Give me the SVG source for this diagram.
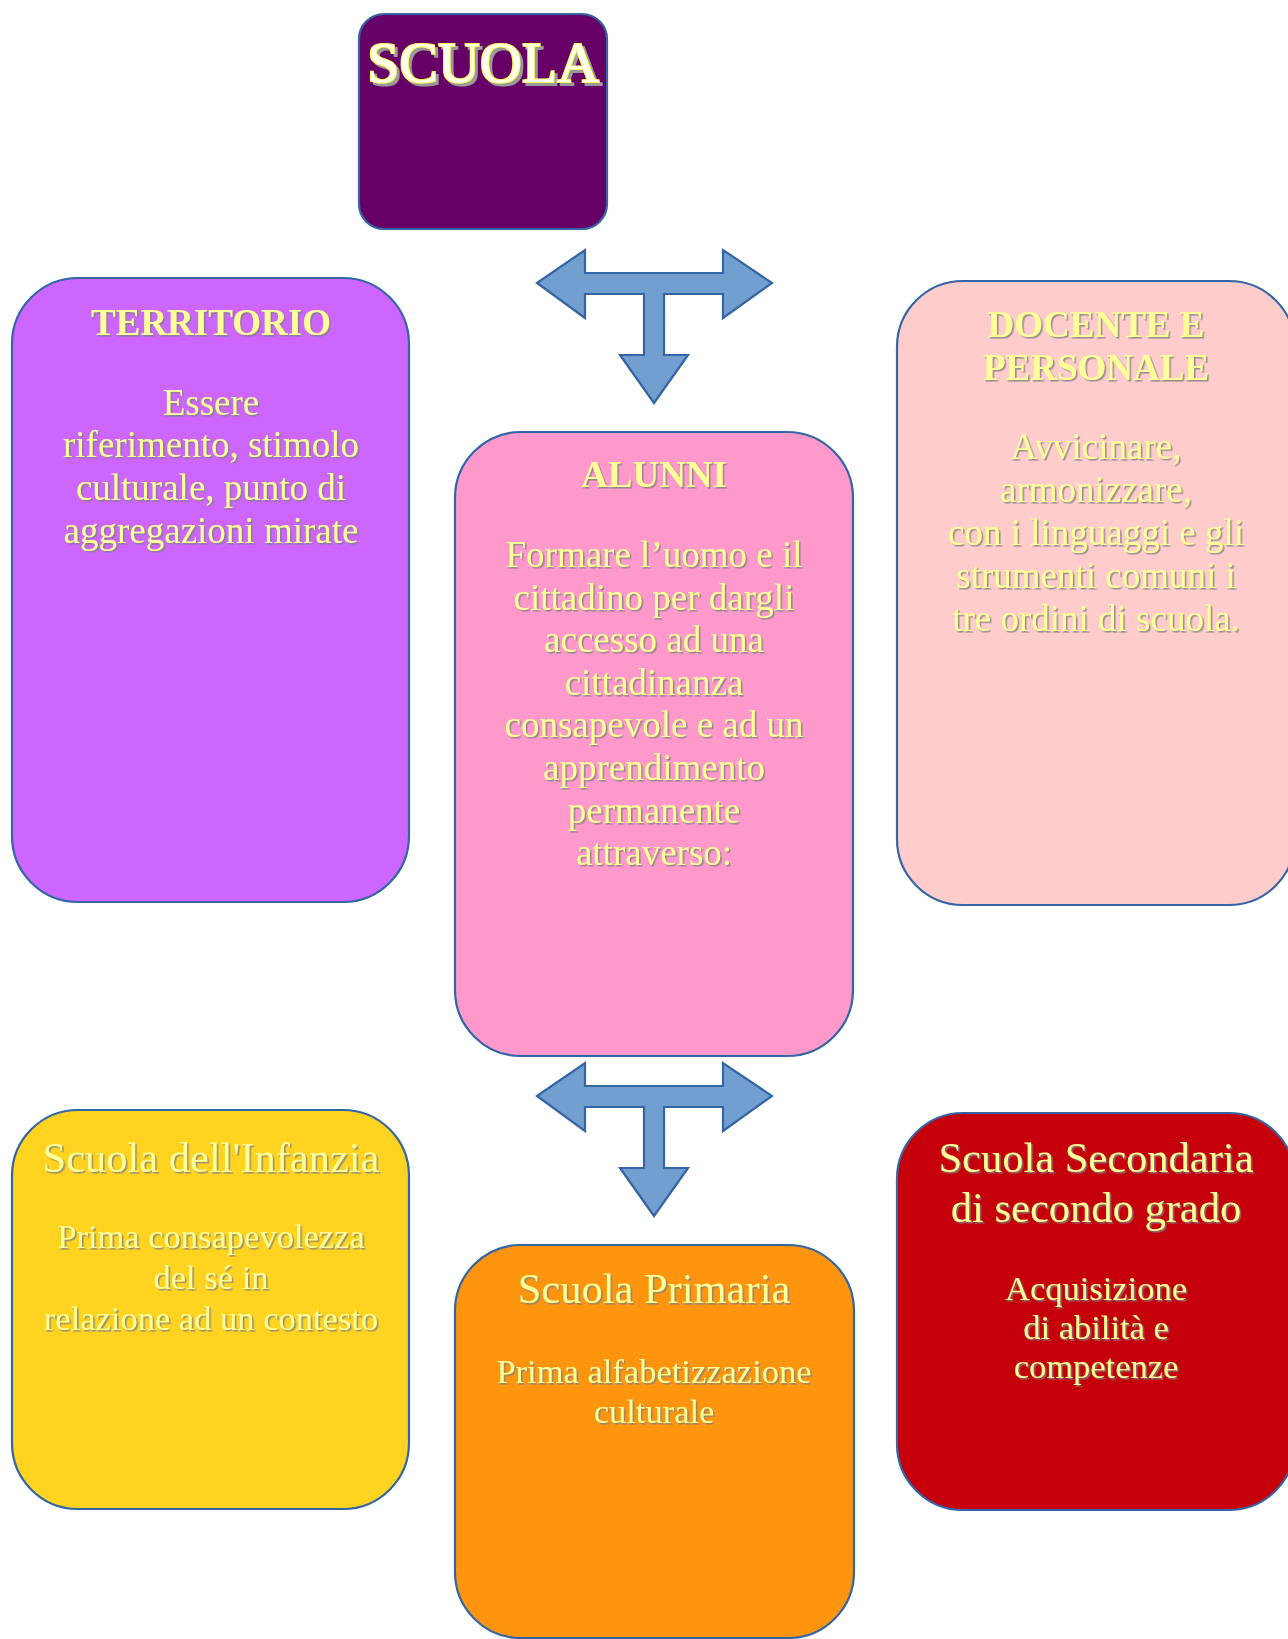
<svg xmlns="http://www.w3.org/2000/svg" width="1288" height="1639" viewBox="0 0 1288 1639">
<defs>
<filter id="sh" x="-10%" y="-10%" width="120%" height="130%">
<feDropShadow dx="1.6" dy="1.6" stdDeviation="0.4" flood-color="#808080" flood-opacity="0.8"/>
</filter>
<filter id="sh2" x="-10%" y="-20%" width="120%" height="140%">
<feMorphology in="SourceAlpha" operator="dilate" radius="0.5" result="d"/>
<feFlood flood-color="#ffff55" result="y"/>
<feComposite in="y" in2="d" operator="in" result="outline"/>
<feOffset in="d" dx="1.6" dy="1.6" result="o"/>
<feFlood flood-color="#9a9a9a" result="g"/>
<feComposite in="g" in2="o" operator="in" result="shadow"/>
<feMerge><feMergeNode in="shadow"/><feMergeNode in="outline"/><feMergeNode in="SourceGraphic"/></feMerge>
</filter>
<style>
.box{stroke:#3465a4;stroke-width:2.2}
.arrow{fill:#729fcf;stroke:#3465a4;stroke-width:2.2;stroke-linejoin:miter}
.tx{font-family:"Liberation Serif","Times New Roman",serif;fill:#ffff99;text-anchor:middle;filter:url(#sh)}
.h{font-weight:bold;font-size:37px}
.b{font-size:37px}
.t{font-size:42.5px}
.s{font-size:34.5px}
.m{font-size:37px;fill:#fffff0;filter:url(#sh2)}
</style>
</defs>
<g id="connectors">
<polygon class="arrow" points="537,283 585,250 585,273 723,273 723,250 772,283 723,318 723,294 664,294 664,355 688,355 654,403 620,355 644,355 644,294 585,294 585,318"/>
<polygon class="arrow" transform="translate(0,813)" points="537,283 585,250 585,273 723,273 723,250 772,283 723,318 723,294 664,294 664,355 688,355 654,403 620,355 644,355 644,294 585,294 585,318"/>
</g>
<g id="scuola">
<rect class="box" x="359" y="14" width="248" height="215" rx="25" fill="#660066"/>
<text class="tx m" transform="translate(483,82) scale(1.5676)" x="0" y="0">SCUOLA</text>
</g>
<g id="territorio">
<rect class="box" x="12" y="278" width="397" height="624" rx="66" fill="#cc66ff"/>
<text class="tx h" x="211" y="335">TERRITORIO</text>
<text class="tx b" x="211" y="415">Essere</text>
<text class="tx b" x="211" y="457">riferimento, stimolo</text>
<text class="tx b" x="211" y="500">culturale, punto di</text>
<text class="tx b" x="211" y="543">aggregazioni mirate</text>
</g>
<g id="alunni">
<rect class="box" x="455" y="432" width="398" height="624" rx="66" fill="#ff99cc"/>
<text class="tx h" x="654" y="487">ALUNNI</text>
<text class="tx b" x="654" y="567">Formare l’uomo e il</text>
<text class="tx b" x="654" y="610">cittadino per dargli</text>
<text class="tx b" x="654" y="652">accesso ad una</text>
<text class="tx b" x="654" y="695">cittadinanza</text>
<text class="tx b" x="654" y="737">consapevole e ad un</text>
<text class="tx b" x="654" y="780">apprendimento</text>
<text class="tx b" x="654" y="823">permanente</text>
<text class="tx b" x="654" y="865">attraverso:</text>
</g>
<g id="docente">
<rect class="box" x="897" y="281" width="398" height="624" rx="66" fill="#ffcccc"/>
<text class="tx h" x="1096" y="337">DOCENTE E</text>
<text class="tx h" x="1096" y="380">PERSONALE</text>
<text class="tx b" x="1096" y="459">Avvicinare,</text>
<text class="tx b" x="1096" y="502">armonizzare,</text>
<text class="tx b" x="1096" y="545">con i linguaggi e gli</text>
<text class="tx b" x="1096" y="588">strumenti comuni i</text>
<text class="tx b" x="1096" y="631">tre ordini di scuola.</text>
</g>
<g id="infanzia">
<rect class="box" x="12" y="1110" width="397" height="399" rx="66" fill="#ffd320"/>
<text class="tx t" x="211" y="1172">Scuola dell'Infanzia</text>
<text class="tx s" x="211" y="1248">Prima consapevolezza</text>
<text class="tx s" x="211" y="1289">del sé in</text>
<text class="tx s" x="211" y="1330">relazione ad un contesto</text>
</g>
<g id="primaria">
<rect class="box" x="455" y="1245" width="399" height="393" rx="66" fill="#ff950e"/>
<text class="tx t" x="654" y="1303">Scuola Primaria</text>
<text class="tx s" x="654" y="1383">Prima alfabetizzazione</text>
<text class="tx s" x="654" y="1423">culturale</text>
</g>
<g id="secondaria">
<rect class="box" x="897" y="1113" width="398" height="397" rx="66" fill="#c5000b"/>
<text class="tx t" x="1096" y="1172">Scuola Secondaria</text>
<text class="tx t" x="1096" y="1222">di secondo grado</text>
<text class="tx s" x="1096" y="1300">Acquisizione</text>
<text class="tx s" x="1096" y="1339">di abilità e</text>
<text class="tx s" x="1096" y="1378">competenze</text>
</g>
</svg>
